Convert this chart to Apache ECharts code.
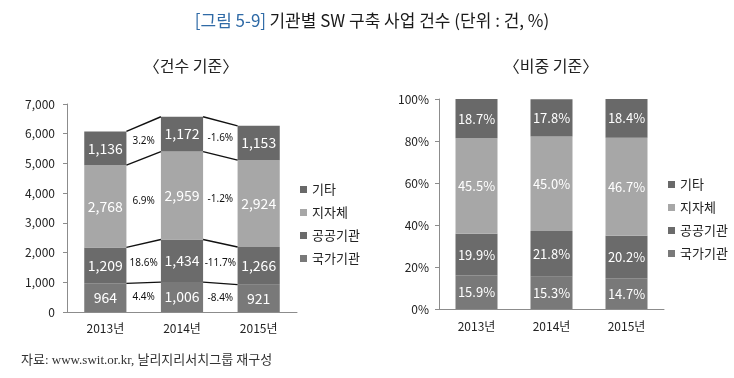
<!DOCTYPE html>
<html><head><meta charset="utf-8">
<script src="https://cdn.jsdelivr.net/npm/echarts@6/dist/echarts.min.js"></script>
<style>html,body{margin:0;padding:0;background:#fff}#c{width:734px;height:378px}</style>
</head><body><div id="c"></div>
<script>
// ---- data ----
const years = ['2013년', '2014년', '2015년'];
const seriesNames = ['국가기관', '공공기관', '지자체', '기타']; // bottom -> top
const legendOrder = ['기타', '지자체', '공공기관', '국가기관'];
const national = [964, 1006, 921];
const publicOrg = [1209, 1434, 1266];
const local = [2768, 2959, 2924];
const other = [1136, 1172, 1153];
const nationalPct = [15.9, 15.3, 14.7];
const publicPct = [19.9, 21.8, 20.2];
const localPct = [45.5, 45.0, 46.7];
const otherPct = [18.7, 17.8, 18.4];
const change1314 = ['4.4%', '18.6%', '6.9%', '3.2%'];   // bottom -> top
const change1415 = ['-8.4%', '-11.7%', '-1.2%', '-1.6%'];
const countTicks = [0, 1000, 2000, 3000, 4000, 5000, 6000, 7000];
const pctTicks = [0, 20, 40, 60, 80, 100];

const colors = ['#797979', '#6b6b6b', '#a7a7a7', '#696969'];
const KR = '"Noto Sans CJK KR", "Noto Sans", sans-serif';
const counts = [national, publicOrg, local, other];
const pcts = [nationalPct, publicPct, localPct, otherPct];
const changes = [change1314, change1415];
const BARW = 0.55;

// cumulative tops per year
const cum = years.map((_, i) => {
  let s = 0; return counts.map(arr => (s += arr[i]));
});
const connData = [];
const connLabels = [];
for (let g = 0; g < 2; g++) {
  for (let k = 0; k < 4; k++) {
    connData.push([g, cum[g][k], cum[g + 1][k], k > 0 ? cum[g][k - 1] : 0, k > 0 ? cum[g + 1][k - 1] : 0]);
    connLabels.push(changes[g][k]);
  }
}

const fmtThousands = v => String(v).replace(/\B(?=(\d{3})+(?!\d))/g, ',');

const chart = echarts.init(document.getElementById('c'), null, {renderer: 'canvas'});

const axisLineStyle = {lineStyle: {color: '#8c8c8c', width: 1}};
const series = [];
seriesNames.forEach((n, idx) => {
  series.push({
    name: n, type: 'bar', stack: 'cnt', xAxisIndex: 0, yAxisIndex: 0,
    barWidth: '55%', data: counts[idx],
    itemStyle: {color: colors[idx]},
    label: {show: true, position: 'inside', color: '#fff', fontSize: 14, fontFamily: KR,
      formatter: p => fmtThousands(p.value)},
    emphasis: {disabled: true}
  });
});
seriesNames.forEach((n, idx) => {
  series.push({
    name: n, type: 'bar', stack: 'pct', xAxisIndex: 1, yAxisIndex: 1,
    barWidth: '56%', data: pcts[idx],
    itemStyle: {color: colors[idx]},
    label: {show: true, position: 'inside', color: '#fff', fontSize: 13, fontFamily: KR,
      formatter: p => p.value.toFixed(1) + '%'},
    emphasis: {disabled: true}
  });
});
series.push({
  type: 'custom', xAxisIndex: 0, yAxisIndex: 0, data: connData, z: 5,
  renderItem: (params, api) => {
    const g = api.value(0), a = api.value(1), b = api.value(2), a0 = api.value(3), b0 = api.value(4);
    const half = api.size([1, 0])[0] * BARW / 2;
    const pA = api.coord([g, a]), pB = api.coord([g + 1, b]);
    const pA0 = api.coord([g, a0]), pB0 = api.coord([g + 1, b0]);
    const x1 = pA[0] + half, x2 = pB[0] - half;
    const mx = (x1 + x2) / 2;
    const yTop = (pA[1] + pB[1]) / 2, yBot = (pA0[1] + pB0[1]) / 2;
    return {type: 'group', children: [
      {type: 'line', shape: {x1: x1, y1: pA[1], x2: x2, y2: pB[1]}, style: {stroke: '#111', lineWidth: 1.4}},
      {type: 'text', x: mx, y: (yTop + yBot) / 2,
       style: {text: connLabels[params.dataIndex], fill: '#111', font: '10px "Noto Sans", sans-serif', align: 'center', verticalAlign: 'middle'}}
    ]};
  }
});

chart.setOption({
  animation: false,
  backgroundColor: '#fff',
  grid: [
    {left: 67, top: 104, width: 230, height: 208},
    {left: 439, top: 99, width: 225, height: 210}
  ],
  xAxis: [
    {type: 'category', gridIndex: 0, data: years, axisLine: axisLineStyle,
     axisTick: {lineStyle: {color: '#8c8c8c'}, length: 4},
     axisLabel: {color: '#222', fontSize: 12, fontFamily: KR, margin: 10}},
    {type: 'category', gridIndex: 1, data: years, axisLine: axisLineStyle,
     axisTick: {lineStyle: {color: '#8c8c8c'}, length: 4},
     axisLabel: {color: '#222', fontSize: 12, fontFamily: KR, margin: 11}}
  ],
  yAxis: [
    {type: 'value', gridIndex: 0, min: countTicks[0], max: countTicks[countTicks.length - 1], interval: 1000,
     axisLine: {show: true, lineStyle: {color: '#8c8c8c'}}, axisTick: {show: true, length: 4, lineStyle: {color: '#8c8c8c'}},
     splitLine: {show: false},
     axisLabel: {color: '#222', fontSize: 12, fontFamily: KR, margin: 12, formatter: v => fmtThousands(v)}},
    {type: 'value', gridIndex: 1, min: pctTicks[0], max: pctTicks[pctTicks.length - 1], interval: 20,
     axisLine: {show: true, lineStyle: {color: '#8c8c8c'}}, axisTick: {show: true, length: 4, lineStyle: {color: '#8c8c8c'}},
     splitLine: {show: false},
     axisLabel: {color: '#222', fontSize: 12, fontFamily: KR, margin: 10, formatter: '{value}%'}}
  ],
  legend: [
    {data: legendOrder, orient: 'vertical', left: 295, top: 178, itemWidth: 7, itemHeight: 7, itemGap: 10,
     icon: 'rect', selectedMode: false, textStyle: {color: '#222', fontSize: 13, fontFamily: KR, lineHeight: 13}},
    {data: legendOrder, orient: 'vertical', left: 663, top: 173, itemWidth: 7, itemHeight: 7, itemGap: 10,
     icon: 'rect', selectedMode: false, textStyle: {color: '#222', fontSize: 13, fontFamily: KR, lineHeight: 13}}
  ],
  graphic: [
    {type: 'text', x: 372, y: 21, style: {
      text: '{b|[그림 5-9]} {k|기관별 SW 구축 사업 건수 (단위 : 건, %)}',
      align: 'center', verticalAlign: 'middle',
      rich: {b: {fill: '#2f6aa6', fontSize: 17, fontFamily: KR}, k: {fill: '#1a1a1a', fontSize: 17, fontFamily: KR}}
    }},
    {type: 'text', x: 191, y: 66, style: {text: '〈건수 기준〉', fill: '#222', fontSize: 16, fontFamily: KR, align: 'center', verticalAlign: 'middle'}},
    {type: 'text', x: 551, y: 66, style: {text: '〈비중 기준〉', fill: '#222', fontSize: 16, fontFamily: KR, align: 'center', verticalAlign: 'middle'}},
    {type: 'text', x: 21, y: 361, style: {text: '자료: www.swit.or.kr, 날리지리서치그룹 재구성', fill: '#333', fontSize: 13,
      fontFamily: '"Liberation Serif", "Noto Sans CJK KR", serif', align: 'left', verticalAlign: 'middle'}}
  ],
  series: series
});
</script></body></html>
